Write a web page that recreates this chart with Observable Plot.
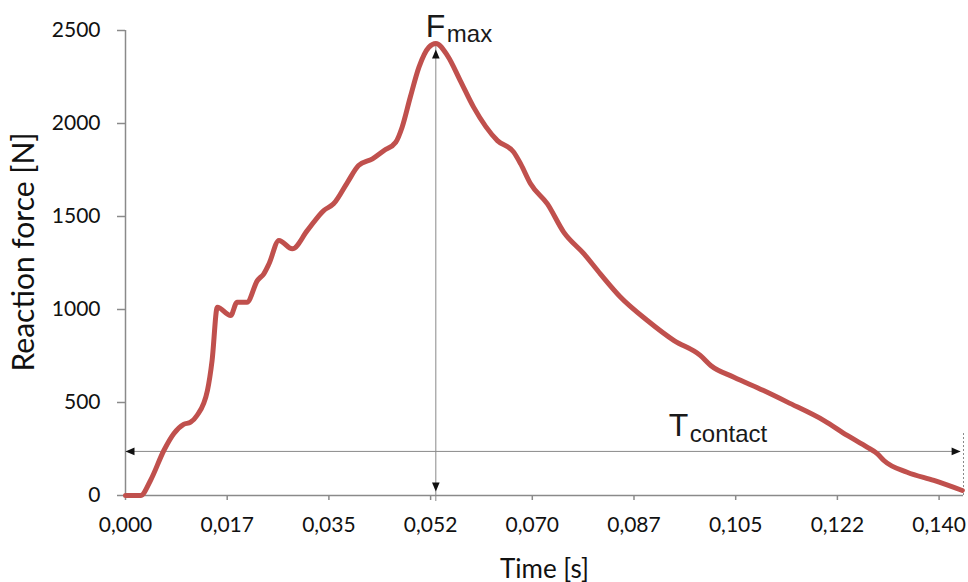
<!DOCTYPE html>
<html><head><meta charset="utf-8">
<script src="https://cdn.jsdelivr.net/npm/d3@7"></script>
<script src="https://cdn.jsdelivr.net/npm/@observablehq/plot@0.6"></script>
<style>body{margin:0;background:#fff}#chart svg{display:block}</style>
</head><body><div id="chart"></div>
<script>
// ---- data ----
const time = [0, 0.0026, 0.0043, 0.0066, 0.0083, 0.0100, 0.0112, 0.0123, 0.0141, 0.0149,
  0.0158, 0.0181, 0.0192, 0.0209, 0.0227, 0.0238, 0.0247, 0.0264, 0.0287, 0.0313,
  0.0341, 0.0358, 0.0382, 0.0401, 0.0425, 0.0445, 0.0465, 0.0476, 0.0490, 0.0505,
  0.0522, 0.0534, 0.0554, 0.0576, 0.0599, 0.0640, 0.0668, 0.0680, 0.0697, 0.0726,
  0.0754, 0.0789, 0.0817, 0.0852, 0.0898, 0.0944, 0.0989, 0.1007, 0.1047, 0.1098,
  0.1139, 0.1202, 0.1242, 0.1276, 0.1294, 0.1305, 0.1345, 0.1391, 0.1440];
const force = [0, 0, 81, 242, 332, 382, 394, 430, 565, 726,
  1012, 968, 1039, 1039, 1156, 1192, 1246, 1371, 1326, 1425,
  1532, 1568, 1684, 1774, 1810, 1855, 1899, 1980, 2141, 2303,
  2410, 2430, 2365, 2231, 2088, 1908, 1846, 1783, 1676, 1568,
  1416, 1299, 1192, 1066, 941, 833, 753, 699, 636, 564,
  502, 403, 323, 260, 224, 188, 125, 81, 27];

const xTicks = [0, 0.0175, 0.035, 0.0525, 0.07, 0.0875, 0.105, 0.1225, 0.14];
const xTickLabels = ["0,000", "0,017", "0,035", "0,052", "0,070", "0,087", "0,105", "0,122", "0,140"];
const yTicks = [0, 500, 1000, 1500, 2000, 2500];
const yMax = 2500;
const axisEnd = 0.1442;          // end of the time axis
const contactEnd = 0.1437;       // right end of the T_contact arrow
const contactLevel = 237;        // force level of the T_contact arrow
const contactMarkTop = 333;      // top of the dotted end marker
const contactLabelTime = 0.0935; // where the T_contact label starts

// ---- derived ----
const data = time.map((t, i) => ({t, f: force[i]}));
const iMax = d3.maxIndex(force);
const peak = {t: time[iMax], f: force[iMax]};

// filled arrow heads with the tip at the origin
const head = (angle) => ({
  draw(ctx) {
    const h = 9, w = 3.8, a = angle * Math.PI / 180;
    const pts = [[0, 0], [-w, h], [w, h]].map(([x, y]) => [
      x * Math.cos(a) - y * Math.sin(a), x * Math.sin(a) + y * Math.cos(a)]);
    ctx.moveTo(...pts[0]); ctx.lineTo(...pts[1]); ctx.lineTo(...pts[2]); ctx.closePath();
  }
});

const gray = "#8a8a8a";
const chart = Plot.plot({
  width: 968, height: 582,
  marginTop: 30, marginRight: 5, marginBottom: 87, marginLeft: 125,
  style: {fontFamily: "Lato", fontSize: "21px", color: "#1a1a1a", background: "#fff"},
  x: {domain: [0, axisEnd]},
  y: {domain: [0, yMax]},
  marks: [
    Plot.axisX({ticks: xTicks, tickFormat: (d, i) => xTickLabels[i], tickSize: 5, tickPadding: 17,
      stroke: gray, strokeWidth: 1.5, fill: "#111", fontSize: 21, label: null}),
    Plot.axisY({ticks: yTicks, tickFormat: d => String(d), tickSize: 8, tickPadding: 17,
      stroke: gray, strokeWidth: 1.5, fill: "#111", fontSize: 21, label: null}),
    Plot.ruleY([0], {stroke: gray, strokeWidth: 1.5}),
    Plot.ruleX([0], {stroke: gray, strokeWidth: 1.5}),
    // annotations
    Plot.ruleX([peak], {x: "t", y1: 0, y2: "f", stroke: gray, strokeWidth: 1, insetTop: 6}),
    Plot.ruleY([contactLevel], {x1: 0, x2: contactEnd, stroke: gray, strokeWidth: 1}),
    Plot.ruleX([axisEnd], {y1: 0, y2: contactMarkTop, stroke: gray, strokeWidth: 1, strokeDasharray: "2,2"}),
    // curve
    Plot.line(data, {x: "t", y: "f", stroke: "#C0504D", strokeWidth: 5, curve: "monotone-x"}),
    // arrow heads
    Plot.dot([peak], {x: "t", y: "f", dy: 6, symbol: head(0), fill: "#111", stroke: "none"}),
    Plot.dot([peak], {x: "t", y: 0, dy: -4, symbol: head(180), fill: "#111", stroke: "none"}),
    Plot.dot([0], {x: 0, y: contactLevel, symbol: head(-90), fill: "#111", stroke: "none"}),
    Plot.dot([0], {x: contactEnd, y: contactLevel, symbol: head(90), fill: "#111", stroke: "none"}),
    // labels
    Plot.text([peak], {x: "t", y: "f", text: () => "F", textAnchor: "start", lineAnchor: "bottom",
      dx: -10, dy: -7, fontFamily: "Liberation Sans", fontSize: 32, fill: "#1a1a1a"}),
    Plot.text([peak], {x: "t", y: "f", text: () => "max", textAnchor: "start", lineAnchor: "bottom",
      dx: 11, dy: -2, fontFamily: "Liberation Sans", fontSize: 24, fill: "#1a1a1a"}),
    Plot.text([0], {x: contactLabelTime, y: contactLevel, text: () => "T", textAnchor: "start", lineAnchor: "bottom",
      dy: -15, fontFamily: "Liberation Sans", fontSize: 32, fill: "#1a1a1a"}),
    Plot.text([0], {x: contactLabelTime, y: contactLevel, text: () => "contact", textAnchor: "start", lineAnchor: "bottom",
      dx: 21, dy: -9, fontFamily: "Liberation Sans", fontSize: 24, fill: "#1a1a1a"}),
    Plot.text(["Reaction force [N]"], {frameAnchor: "left", text: d => d, rotate: -90, textAnchor: "middle",
      lineAnchor: "middle", dx: -101, dy: -11, fontSize: 30, fill: "#111"}),
    Plot.text(["Time [s]"], {frameAnchor: "bottom", text: d => d, textAnchor: "middle", lineAnchor: "bottom",
      dy: 82, fontSize: 26, fill: "#111"})
  ]
});
document.getElementById("chart").appendChild(chart);
</script>
</body></html>
